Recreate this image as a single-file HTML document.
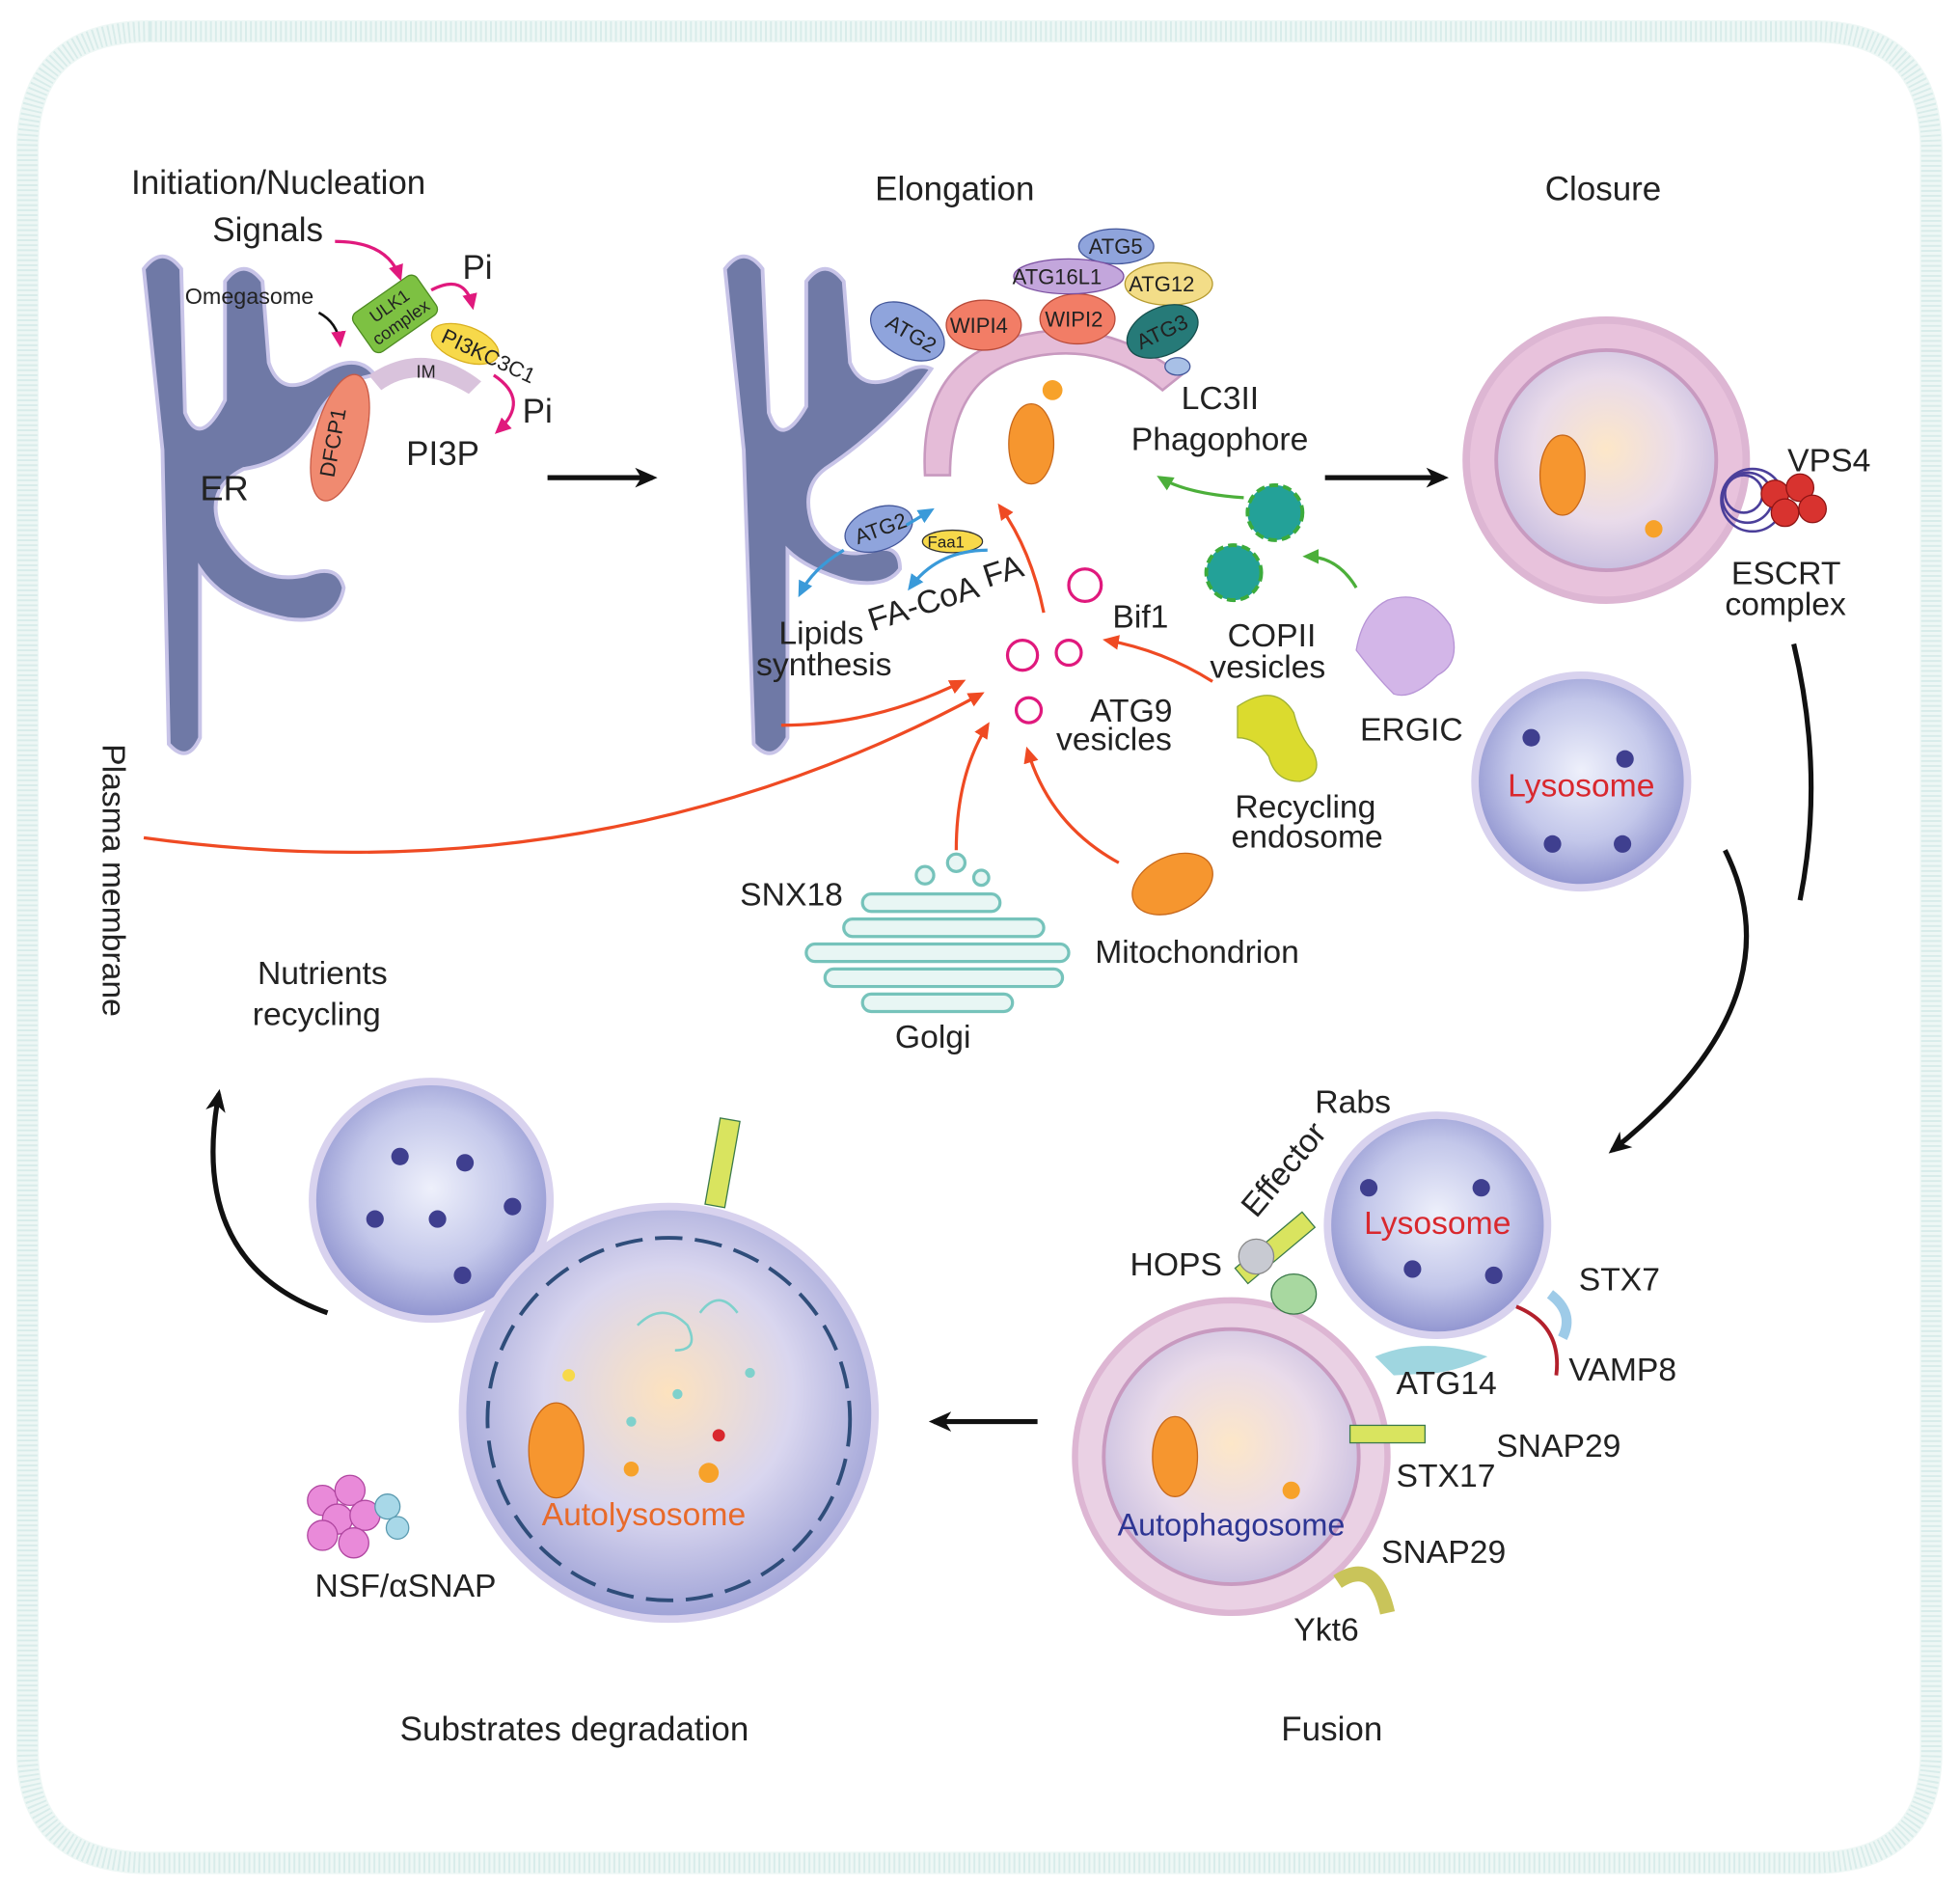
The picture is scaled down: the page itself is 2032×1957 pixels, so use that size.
<!DOCTYPE html>
<html><head><meta charset="utf-8"><style>
html,body{margin:0;padding:0;background:#fff}
svg{display:block}
text{font-family:"Liberation Sans",Arial,sans-serif;fill:#222}
</style></head><body>
<svg width="2032" height="1957" viewBox="0 0 1568 1510" xmlns="http://www.w3.org/2000/svg">
<defs>
<radialGradient id="lys" cx="50%" cy="45%" r="55%"><stop offset="0" stop-color="#eef0fb"/><stop offset="0.6" stop-color="#c3c7ea"/><stop offset="1" stop-color="#8f93cf"/></radialGradient>
<radialGradient id="apg" cx="50%" cy="45%" r="55%"><stop offset="0" stop-color="#fde7c8"/><stop offset="0.6" stop-color="#e9dbea"/><stop offset="1" stop-color="#c9bfe0"/></radialGradient>
<radialGradient id="al" cx="50%" cy="45%" r="55%"><stop offset="0" stop-color="#fde2be"/><stop offset="0.55" stop-color="#d9d6ef"/><stop offset="1" stop-color="#9ea2d6"/></radialGradient>
<marker id="ab" markerUnits="userSpaceOnUse" markerWidth="20" markerHeight="20" refX="14" refY="10" orient="auto"><path d="M0,2 L18,10 L0,18 L5,10 z" fill="#111"/></marker>
<marker id="ar" markerUnits="userSpaceOnUse" markerWidth="14" markerHeight="14" refX="10" refY="7" orient="auto"><path d="M0,1 L13,7 L0,13 z" fill="#ef4a23"/></marker>
<marker id="am" markerUnits="userSpaceOnUse" markerWidth="14" markerHeight="14" refX="10" refY="7" orient="auto"><path d="M0,1 L13,7 L0,13 z" fill="#e0197d"/></marker>
<marker id="ag" markerUnits="userSpaceOnUse" markerWidth="14" markerHeight="14" refX="10" refY="7" orient="auto"><path d="M0,1 L13,7 L0,13 z" fill="#4caf3a"/></marker>
<marker id="abl" markerUnits="userSpaceOnUse" markerWidth="14" markerHeight="14" refX="10" refY="7" orient="auto"><path d="M0,1 L13,7 L0,13 z" fill="#3a9ad9"/></marker>
</defs>
<path d="M120,25 L1450,25 Q1545,25 1545,120 L1545,1400 Q1545,1490 1450,1490 L120,1490 Q22,1490 22,1400 L22,120 Q22,25 120,25 Z" fill="none" stroke="#eef7f5" stroke-width="18"/>
<path d="M120,25 L1450,25 Q1545,25 1545,120 L1545,1400 Q1545,1490 1450,1490 L120,1490 Q22,1490 22,1400 L22,120 Q22,25 120,25 Z" fill="none" stroke="#d8ecea" stroke-width="16" stroke-dasharray="1.5 2.5"/>

<g fill="#6f79a6" stroke="#c8c4e8" stroke-width="3">
<path d="M115,215 Q130,195 145,215 L148,330 Q160,360 180,320 L180,225 Q195,205 210,225 L215,290 Q225,320 255,300 Q285,280 300,300 Q265,305 250,340 Q230,370 195,375 Q165,390 175,420 Q200,470 245,460 Q270,450 275,470 Q270,500 230,495 Q180,485 160,455 L160,590 Q150,612 135,595 L130,360 Z"/>
<path d="M580,215 Q595,195 610,215 L615,330 Q625,360 645,325 L645,225 Q660,205 675,225 L680,290 Q690,315 720,300 Q735,290 745,295 Q735,310 715,330 Q690,355 660,375 Q640,390 650,420 Q665,450 700,440 Q720,435 720,455 Q710,470 680,465 Q645,455 630,440 L630,590 Q618,612 603,595 L595,360 Z"/>
</g>
<path d="M295,300 Q340,270 385,305 L375,315 Q335,290 305,312 Z" fill="#d9c3dc"/>
<ellipse cx="272" cy="350" rx="20" ry="52" fill="#f08a70" stroke="#c85a46" transform="rotate(15 272 350)"/>
<text x="272" y="355" font-size="17" text-anchor="middle" transform="rotate(-80 272 355)">DFCP1</text>
<rect x="285" y="232" width="62" height="38" rx="6" fill="#7dc142" stroke="#4d8a22" transform="rotate(-35 316 251)"/>
<text x="316" y="248" font-size="14" text-anchor="middle" transform="rotate(-35 316 251)">ULK1</text>
<text x="316" y="264" font-size="14" text-anchor="middle" transform="rotate(-35 316 251)">complex</text>
<ellipse cx="372" cy="275" rx="28" ry="14" fill="#f7d94a" stroke="#d9b020" transform="rotate(20 372 275)"/>
<text x="352" y="273" font-size="17" transform="rotate(25 352 273)">PI3KC3C1</text>
<text x="333" y="302" font-size="14">IM</text>
<text x="105" y="155" font-size="27">Initiation/Nucleation</text>
<text x="170" y="193" font-size="27">Signals</text>
<text x="148" y="243" font-size="18">Omegasome</text>
<text x="370" y="223" font-size="27">Pi</text>
<text x="418" y="338" font-size="27">Pi</text>
<text x="325" y="372" font-size="27">PI3P</text>
<text x="160" y="400" font-size="28">ER</text>
<path d="M268,193 Q310,193 320,222" fill="none" stroke="#e0197d" stroke-width="2.5" marker-end="url(#am)"/>
<path d="M345,232 Q372,218 378,245" fill="none" stroke="#e0197d" stroke-width="2.5" marker-end="url(#am)"/>
<path d="M395,300 Q425,320 398,345" fill="none" stroke="#e0197d" stroke-width="2.5" marker-end="url(#am)"/>
<path d="M255,250 Q270,258 272,275" fill="none" stroke="#111" stroke-width="2" marker-end="url(#am)"/>
<line x1="438" y1="382" x2="522" y2="382" stroke="#111" stroke-width="4" marker-end="url(#ab)"/>

<text x="700" y="160" font-size="27">Elongation</text>
<path d="M740,380 Q735,290 810,270 Q880,250 945,300 L930,312 Q880,270 815,288 Q760,305 760,380 Z" fill="#e5bcd8" stroke="#c899bf" stroke-width="2"/>
<ellipse cx="726" cy="265" rx="32" ry="20" fill="#8fa4dc" stroke="#44579a" transform="rotate(30 726 265)"/><text x="708" y="271" font-size="17" transform="rotate(30 726 265)">ATG2</text>
<ellipse cx="787" cy="260" rx="30" ry="20" fill="#f27d66" stroke="#b84b3a"/><text x="760" y="266" font-size="17">WIPI4</text>
<ellipse cx="862" cy="255" rx="30" ry="20" fill="#f27d66" stroke="#b84b3a"/><text x="836" y="261" font-size="17">WIPI2</text>
<ellipse cx="893" cy="197" rx="30" ry="14" fill="#8fa4dc" stroke="#44579a"/><text x="871" y="203" font-size="17">ATG5</text>
<ellipse cx="855" cy="221" rx="44" ry="14" fill="#c3a6dc" stroke="#7a4fa0"/><text x="810" y="227" font-size="17">ATG16L1</text>
<ellipse cx="935" cy="227" rx="35" ry="17" fill="#f3dd88" stroke="#b59a2f"/><text x="903" y="233" font-size="17">ATG12</text>
<ellipse cx="930" cy="265" rx="30" ry="19" fill="#267a78" stroke="#174e4c" transform="rotate(-25 930 265)"/><text x="908" y="271" font-size="17" transform="rotate(-25 930 265)">ATG3</text>
<ellipse cx="942" cy="293" rx="10" ry="7" fill="#a8c0e6" stroke="#44579a"/>
<ellipse cx="825" cy="355" rx="18" ry="32" fill="#f6962f" stroke="#c7681b"/>
<circle cx="842" cy="312" r="8" fill="#f7a22a"/>
<ellipse cx="703" cy="423" rx="28" ry="17" fill="#8fa4dc" stroke="#44579a" transform="rotate(-20 703 423)"/><text x="683" y="429" font-size="17" transform="rotate(-20 703 423)">ATG2</text>
<ellipse cx="762" cy="433" rx="24" ry="9" fill="#f7d94a" stroke="#333"/><text x="742" y="438" font-size="13">Faa1</text>
<text x="698" y="505" font-size="26" transform="rotate(-18 698 505)">FA-CoA</text>
<text x="790" y="470" font-size="26" transform="rotate(-18 790 470)">FA</text>
<path d="M725,420 L745,408" stroke="#3a9ad9" stroke-width="2.5" marker-end="url(#abl)"/>
<path d="M790,440 Q750,440 728,470" fill="none" stroke="#3a9ad9" stroke-width="2.5" marker-end="url(#abl)"/>
<path d="M675,440 Q650,455 640,475" fill="none" stroke="#3a9ad9" stroke-width="2.5" marker-end="url(#abl)"/>
<text x="623" y="515" font-size="26">Lipids</text>
<text x="605" y="540" font-size="26">synthesis</text>
<text x="945" y="327" font-size="26">LC3II</text>
<text x="905" y="360" font-size="26">Phagophore</text>
<text x="890" y="502" font-size="26">Bif1</text>
<text x="872" y="577" font-size="26">ATG9</text>
<text x="845" y="600" font-size="26">vesicles</text>
<g fill="#fff" stroke="#e0197d" stroke-width="2.5">
<circle cx="868" cy="468" r="13"/><circle cx="818" cy="524" r="12"/><circle cx="855" cy="522" r="10"/><circle cx="823" cy="568" r="10"/>
</g>
<g fill="#23a198" stroke="#3cab3c" stroke-width="3" stroke-dasharray="7 4">
<circle cx="1020" cy="410" r="22"/><circle cx="987" cy="458" r="22"/>
</g>
<text x="982" y="517" font-size="26">COPII</text>
<text x="968" y="542" font-size="26">vesicles</text>
<path d="M1110,480 Q1140,470 1160,500 Q1170,530 1150,540 Q1130,560 1115,555 Q1100,540 1085,520 Q1090,490 1110,480Z" fill="#d3b6e8" stroke="#b794d6"/>
<text x="1088" y="592" font-size="26">ERGIC</text>
<path d="M990,565 Q1020,545 1035,570 Q1040,590 1050,600 Q1060,620 1040,625 Q1020,625 1015,605 Q1005,590 990,590Z" fill="#dbdb2e" stroke="#9fb035"/>
<text x="988" y="654" font-size="26">Recycling</text>
<text x="985" y="678" font-size="26">endosome</text>
<ellipse cx="938" cy="707" rx="34" ry="22" fill="#f6962f" stroke="#c7681b" transform="rotate(-25 938 707)"/>
<text x="876" y="770" font-size="26">Mitochondrion</text>
<g fill="#e8f6f4" stroke="#76c3bb" stroke-width="2.5">
<rect x="690" y="715" width="110" height="14" rx="7"/><rect x="675" y="735" width="160" height="14" rx="7"/><rect x="645" y="755" width="210" height="14" rx="7"/><rect x="660" y="775" width="190" height="14" rx="7"/><rect x="690" y="795" width="120" height="14" rx="7"/>
<circle cx="740" cy="700" r="7"/><circle cx="765" cy="690" r="7"/><circle cx="785" cy="702" r="6"/>
</g>
<text x="592" y="724" font-size="26">SNX18</text>
<text x="716" y="838" font-size="26">Golgi</text>
<text x="82" y="595" font-size="26" transform="rotate(90 82 595)">Plasma membrane</text>
<g fill="none" stroke="#ef4a23" stroke-width="2.5">
<path d="M835,490 Q825,440 800,405" marker-end="url(#ar)"/>
<path d="M625,580 Q700,580 770,545" marker-end="url(#ar)"/>
<path d="M115,670 Q480,720 785,555" marker-end="url(#ar)"/>
<path d="M765,680 Q765,620 790,580" marker-end="url(#ar)"/>
<path d="M895,690 Q840,660 822,600" marker-end="url(#ar)"/>
<path d="M970,545 Q930,520 885,512" marker-end="url(#ar)"/>
</g>
<g fill="none" stroke="#4caf3a" stroke-width="2.5">
<path d="M995,398 Q950,395 928,382" marker-end="url(#ag)"/>
<path d="M1085,470 Q1070,445 1045,445" marker-end="url(#ag)"/>
</g>
<line x1="1060" y1="382" x2="1155" y2="382" stroke="#111" stroke-width="4" marker-end="url(#ab)"/>

<text x="1236" y="160" font-size="27">Closure</text>
<circle cx="1285" cy="368" r="112" fill="#e8c2dc" stroke="#ddb6d3" stroke-width="6"/>
<circle cx="1285" cy="368" r="88" fill="url(#apg)" stroke="#c89ac0" stroke-width="3"/>
<ellipse cx="1250" cy="380" rx="18" ry="32" fill="#f6962f" stroke="#c7681b"/>
<circle cx="1323" cy="423" r="7" fill="#f7a22a"/>
<g fill="none" stroke="#4b3f9a" stroke-width="2"><circle cx="1395" cy="395" r="15"/><circle cx="1398" cy="398" r="20"/><circle cx="1402" cy="400" r="25"/></g>
<g fill="#d8332f" stroke="#8e1414"><circle cx="1420" cy="395" r="11"/><circle cx="1440" cy="390" r="11"/><circle cx="1428" cy="410" r="11"/><circle cx="1450" cy="407" r="11"/></g>
<text x="1430" y="377" font-size="26">VPS4</text>
<text x="1385" y="467" font-size="26">ESCRT</text>
<text x="1380" y="492" font-size="26">complex</text>
<circle cx="1265" cy="625" r="85" fill="url(#lys)" stroke="#d8d2ee" stroke-width="6"/>
<text x="1265" y="637" font-size="26" text-anchor="middle" style="fill:#d9282e">Lysosome</text>
<path d="M1435,515 Q1460,620 1440,720" fill="none" stroke="#111" stroke-width="4"/>
<path d="M1380,680 Q1440,800 1290,920" fill="none" stroke="#111" stroke-width="4" marker-end="url(#ab)"/>

<circle cx="1150" cy="980" r="88" fill="url(#lys)" stroke="#d8d2ee" stroke-width="6"/>
<text x="1150" y="987" font-size="26" text-anchor="middle" style="fill:#d9282e">Lysosome</text>
<circle cx="985" cy="1165" r="125" fill="#ead1e4" stroke="#ddb6d3" stroke-width="5"/>
<circle cx="985" cy="1165" r="102" fill="url(#apg)" stroke="#c89ac0" stroke-width="3"/>
<ellipse cx="940" cy="1165" rx="18" ry="32" fill="#f6962f" stroke="#c7681b"/>
<circle cx="1033" cy="1192" r="7" fill="#f7a22a"/>
<path d="M1100,1085 Q1140,1068 1190,1085 Q1170,1095 1150,1098 L1115,1100 Z" fill="#9fd6e0"/>
<text x="985" y="1228" font-size="25" text-anchor="middle" style="fill:#2d3593">Autophagosome</text>
<text x="1052" y="890" font-size="26">Rabs</text>
<text x="1005" y="975" font-size="26" transform="rotate(-50 1005 975)">Effector</text>
<text x="904" y="1020" font-size="26">HOPS</text>
<text x="1263" y="1032" font-size="26">STX7</text>
<text x="1255" y="1104" font-size="26">VAMP8</text>
<text x="1117" y="1115" font-size="26">ATG14</text>
<text x="1197" y="1165" font-size="26">SNAP29</text>
<text x="1117" y="1189" font-size="26">STX17</text>
<text x="1105" y="1250" font-size="26">SNAP29</text>
<text x="1035" y="1312" font-size="26">Ykt6</text>
<path d="M1240,1035 Q1260,1050 1250,1070" fill="none" stroke="#9ecbe8" stroke-width="8"/>
<path d="M1213,1045 Q1250,1060 1245,1100" fill="none" stroke="#b3202c" stroke-width="3"/>
<rect x="985" y="990" width="70" height="16" fill="#d9e45f" stroke="#3b7a4a" transform="rotate(-40 1020 998)"/>
<ellipse cx="1035" cy="1035" rx="18" ry="16" fill="#a8d8a0" stroke="#3b7a4a"/>
<ellipse cx="1005" cy="1005" rx="14" ry="14" fill="#c8cad2" stroke="#888"/>
<rect x="1080" y="1140" width="60" height="14" fill="#d9e45f" stroke="#3b7a4a"/>
<path d="M1070,1265 Q1100,1245 1110,1290" fill="none" stroke="#c9c45a" stroke-width="12"/>
<line x1="830" y1="1137" x2="747" y2="1137" stroke="#111" stroke-width="4" marker-end="url(#ab)"/>
<text x="1025" y="1392" font-size="27">Fusion</text>

<circle cx="345" cy="960" r="95" fill="url(#lys)" stroke="#d8d2ee" stroke-width="6"/>
<circle cx="535" cy="1130" r="165" fill="url(#al)" stroke="#d8d2ee" stroke-width="6"/>
<circle cx="535" cy="1135" r="145" fill="none" stroke="#2f4d7a" stroke-width="3" stroke-dasharray="22 10"/>
<g fill="#3f3f8f"><circle cx="320" cy="925" r="7"/><circle cx="372" cy="930" r="7"/><circle cx="300" cy="975" r="7"/><circle cx="350" cy="975" r="7"/><circle cx="410" cy="965" r="7"/><circle cx="370" cy="1020" r="7"/>
<circle cx="1095" cy="950" r="7"/><circle cx="1185" cy="950" r="7"/><circle cx="1130" cy="1015" r="7"/><circle cx="1195" cy="1020" r="7"/>
<circle cx="1225" cy="590" r="7"/><circle cx="1300" cy="607" r="7"/><circle cx="1242" cy="675" r="7"/><circle cx="1298" cy="675" r="7"/></g>
<ellipse cx="445" cy="1160" rx="22" ry="38" fill="#f6962f" stroke="#c7681b"/>
<circle cx="505" cy="1175" r="6" fill="#f7a22a"/><circle cx="567" cy="1178" r="8" fill="#f7a22a"/><circle cx="575" cy="1148" r="5" fill="#d9282e"/><circle cx="455" cy="1100" r="5" fill="#f7d94a"/>
<circle cx="542" cy="1115" r="4" fill="#7fd1cc"/><circle cx="505" cy="1137" r="4" fill="#7fd1cc"/><circle cx="600" cy="1098" r="4" fill="#7fd1cc"/>
<path d="M510,1060 Q530,1040 550,1060 Q560,1080 540,1080 M560,1050 Q575,1030 590,1050" fill="none" stroke="#7fd1cc" stroke-width="2"/>
<text x="515" y="1220" font-size="26" text-anchor="middle" style="fill:#e86a2a">Autolysosome</text>
<g fill="#e98ad9" stroke="#b046a0"><circle cx="258" cy="1200" r="12"/><circle cx="280" cy="1192" r="12"/><circle cx="270" cy="1215" r="12"/><circle cx="292" cy="1212" r="12"/><circle cx="258" cy="1228" r="12"/><circle cx="283" cy="1234" r="12"/></g>
<g fill="#a8d8e8" stroke="#5a9ab0"><circle cx="310" cy="1205" r="10"/><circle cx="318" cy="1222" r="9"/></g>
<text x="252" y="1277" font-size="26">NSF/αSNAP</text>
<rect x="570" y="895" width="16" height="70" fill="#d9e45f" stroke="#3b7a4a" transform="rotate(10 578 930)"/>
<text x="206" y="787" font-size="26">Nutrients</text>
<text x="202" y="820" font-size="26">recycling</text>
<path d="M262,1050 Q150,1010 175,875" fill="none" stroke="#111" stroke-width="4" marker-end="url(#ab)"/>
<text x="320" y="1392" font-size="27">Substrates degradation</text>
</svg>
</body></html>
